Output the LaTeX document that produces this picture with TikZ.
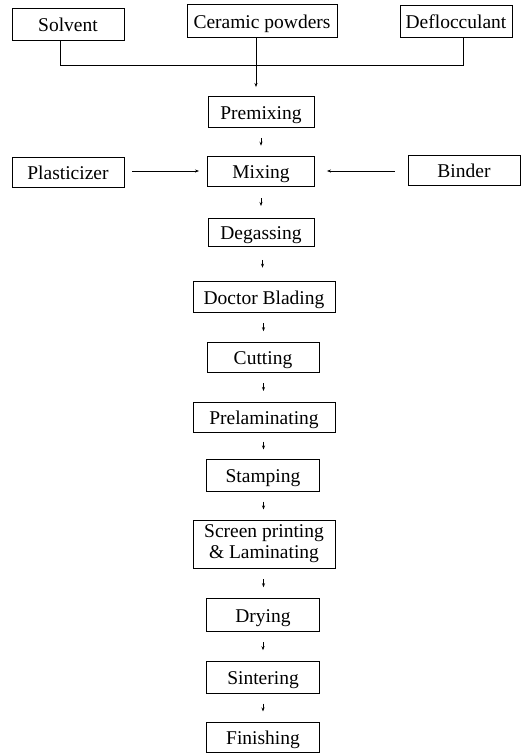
\documentclass[tikz,border=0pt]{standalone}
\usepackage{fontspec}
\setmainfont{Liberation Serif}
\usetikzlibrary{arrows.meta,calc}
\begin{document}
\begin{tikzpicture}[x=1pt,y=-1pt,
  box/.style={draw,line width=0.9pt,inner sep=0pt,font=\fontsize{19.5}{21}\selectfont,text height=14pt,text depth=-1pt},
  tip/.style={-{Stealth[length=4pt,width=3pt]},line width=0.8pt},
  link/.style={line width=0.9pt}]
\useasboundingbox (0,0) rectangle (523,753);
\node[box,minimum width=112pt,minimum height=32pt] (solv) at (68,24) {Solvent};
\node[box,minimum width=150pt,minimum height=33pt] (cer) at (262,21) {Ceramic powders};
\node[box,minimum width=112pt,minimum height=32pt] (defl) at (456,21) {Deflocculant};
\node[box,minimum width=106pt,minimum height=31pt] (pre) at (261,112) {Premixing};
\node[box,minimum width=107pt,minimum height=30pt] (mix) at (261,171) {Mixing};
\node[box,minimum width=112pt,minimum height=30pt] (pla) at (68,172) {Plasticizer};
\node[box,minimum width=112pt,minimum height=30pt] (bin) at (464,170) {Binder};
\node[box,minimum width=106pt,minimum height=28pt] (deg) at (261,232) {Degassing};
\node[box,minimum width=142pt,minimum height=31pt] (doc) at (264,297) {Doctor Blading};
\node[box,minimum width=112pt,minimum height=30pt] (cut) at (263,357) {Cutting};
\node[box,minimum width=142pt,minimum height=30pt] (prel) at (264,417) {Prelaminating};
\node[box,minimum width=113pt,minimum height=32pt] (sta) at (263,475) {Stamping};
\node[draw,line width=0.9pt,inner sep=0pt,font=\fontsize{19.5}{21}\selectfont,align=center,minimum width=142pt,minimum height=48pt] (scr) at (264,544) {Screen printing\\\& Laminating};
\node[box,minimum width=113pt,minimum height=33pt] (dry) at (263,615) {Drying};
\node[box,minimum width=113pt,minimum height=32pt] (sin) at (263,677) {Sintering};
\node[box,minimum width=113pt,minimum height=30pt] (fin) at (263,737) {Finishing};
\coordinate (j) at (256,65);
\draw[link] ([xshift=-8pt]solv.south) |- (j);
\draw[link] ([xshift=7pt]defl.south) |- (j);
\draw[tip] ([xshift=-6pt]cer.south) -- ([xshift=-5pt,yshift=9pt]pre.north);
\draw[tip,shorten <=8pt,shorten >=8pt] (pla.east |- mix) -- (mix);
\draw[tip,shorten <=13pt,shorten >=12pt] (bin.west |- mix) -- (mix);
\foreach \a/\b in {pre/mix,mix/deg,deg/doc,doc/cut,cut/prel,prel/sta,sta/scr,scr/dry,dry/sin,sin/fin}{
  \draw[tip] ($(\a.south)!0.5!(\b.north)+(0,-4)$) -- ($(\a.south)!0.5!(\b.north)+(0,4)$);
}
\end{tikzpicture}
\end{document}
